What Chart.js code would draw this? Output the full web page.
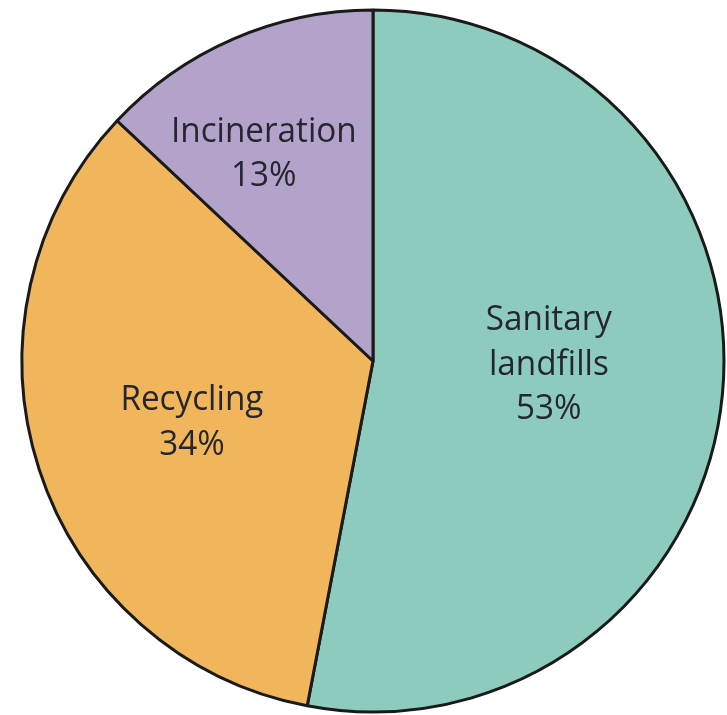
<!DOCTYPE html>
<html>
<head>
<meta charset="utf-8">
<style>
html,body{margin:0;padding:0;background:#fff;}
#wrap{width:727px;height:715px;}
</style>
<script src="https://cdn.jsdelivr.net/npm/chart.js@4/dist/chart.umd.min.js"></script>
</head>
<body>
<div id="wrap"><canvas id="c" width="727" height="715"></canvas></div>
<script>
const categories = ["Sanitary landfills", "Recycling", "Incineration"];
const labelLines = [["Sanitary", "landfills", "53%"], ["Recycling", "34%"], ["Incineration", "13%"]];
const values = [53, 34, 13];
const colors = ["#8ccbbe", "#f1b65b", "#b3a3cb"];

// label anchor (first baseline) relative to pie centre, as fraction of radius
const labelAnchor = [[0.501, -0.088], [-0.516, 0.140], [-0.311, -0.624]];

const labelPlugin = {
  id: 'sliceLabels',
  afterDatasetsDraw(chart) {
    const ctx = chart.ctx;
    const meta = chart.getDatasetMeta(0);
    ctx.save();
    ctx.fillStyle = '#262630';
    ctx.font = '35px "Open Sans", "Noto Sans", sans-serif';
    ctx.textAlign = 'center';
    ctx.textBaseline = 'alphabetic';
    const lh = 44.5;
    const sx = 0.95;
    meta.data.forEach((arc, i) => {
      const p = arc.getProps(['x','y','outerRadius'], true);
      const cx = p.x + labelAnchor[i][0] * p.outerRadius;
      const cy = p.y + labelAnchor[i][1] * p.outerRadius;
      labelLines[i].forEach((t, k) => {
        ctx.save();
        ctx.translate(cx, cy + k * lh);
        ctx.scale(sx, 1);
        ctx.fillText(t, 0, 0);
        ctx.restore();
      });
    });
    ctx.restore();
  }
};

new Chart(document.getElementById('c'), {
  type: 'pie',
  data: {
    labels: categories,
    datasets: [{
      data: values,
      backgroundColor: colors,
      borderColor: '#1a1a1a',
      borderWidth: 3,
      radius: 351
    }]
  },
  options: {
    responsive: false,
    animation: false,
    layout: { padding: { left: 19, right: 0, top: 7, bottom: 0 } },
    plugins: { legend: { display: false }, tooltip: { enabled: false } }
  },
  plugins: [labelPlugin]
});
</script>
</body>
</html>
